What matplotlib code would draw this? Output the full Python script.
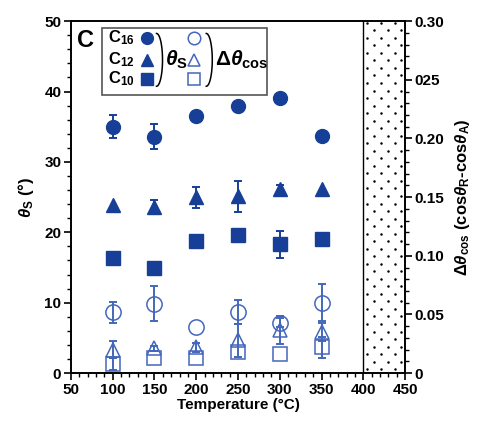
import matplotlib.pyplot as plt
import numpy as np
from matplotlib.ticker import MultipleLocator, FixedLocator
from matplotlib.patches import Rectangle

plt.rcParams['font.family'] = ['Liberation Sans', 'DejaVu Sans']
plt.rcParams['font.weight'] = 'bold'
plt.rcParams['mathtext.fontset'] = 'custom'
plt.rcParams['mathtext.rm'] = 'Liberation Sans:bold'
plt.rcParams['mathtext.it'] = 'Liberation Sans:bold:italic'
plt.rcParams['mathtext.bf'] = 'Liberation Sans:bold'

# temperatures (°C)
temps = [100, 150, 200, 250, 300, 350]

# static contact angle theta_S (deg) with error
c16_s = [35.0, 33.6, 36.5, 38.0, 39.1, 33.7]
c16_s_err = [1.6, 1.8, 0, 0, 0, 0]
c12_s = [23.9, 23.6, 25.0, 25.1, 26.2, 26.2]
c12_s_err = [0, 1.0, 1.5, 2.2, 0.5, 0]
c10_s = [16.4, 15.0, 18.7, 19.6, 18.3, 19.1]
c10_s_err = [0, 0, 0.6, 0, 1.9, 0]

# hysteresis delta cos theta
c16_cos = [0.052, 0.059, 0.039, 0.052, 0.043, 0.060]
c16_cos_err = [0.009, 0.015, 0, 0.010, 0.004, 0.016]
c12_cos = [0.020, 0.021, 0.022, 0.028, 0.037, 0.035]
c12_cos_err = [0.007, 0.002, 0.004, 0.014, 0.012, 0.008]
c10_cos = [0.008, 0.0125, 0.013, 0.018, 0.016, 0.022]
c10_cos_err = [0.005, 0, 0, 0, 0, 0.009]

right_ticks = [0, 0.05, 0.10, 0.15, 0.20, 0.25, 0.30]
right_labels = ['0', '0.05', '0.10', '0.15', '0.20', '025', '0.30']

dark = '#173f97'
light = '#4467bb'


def draw_series(a, x, y, err, mk, ms, filled):
    x = np.asarray(x)
    y = np.asarray(y)
    err = np.asarray(err)
    has = err > 0
    col = dark if filled else light
    # error bars only where there is one
    a.errorbar(x[has], y[has], yerr=err[has], fmt='none', ecolor=col,
               elinewidth=1.4, capsize=3, capthick=1.4, zorder=3)
    if filled:
        a.plot(x, y, ls='none', marker=mk, ms=ms, color=dark, zorder=4)
    else:
        a.plot(x, y, ls='none', marker=mk, ms=ms, mfc='none', mec=light,
               mew=1.1, zorder=4)


fig = plt.figure(figsize=(4.81, 4.23), dpi=100)
ax = fig.add_axes([0.1476, 0.118, 0.6944, 0.832])
ax2 = ax.twinx()

draw_series(ax, temps, c16_s, c16_s_err, 'o', 10, True)
draw_series(ax, temps, c12_s, c12_s_err, '^', 9.5, True)
draw_series(ax, temps, c10_s, c10_s_err, 's', 9.5, True)

draw_series(ax2, temps, c16_cos, c16_cos_err, 'o', 11, False)
draw_series(ax2, temps, c12_cos, c12_cos_err, '^', 10.5, False)
draw_series(ax2, temps, c10_cos, c10_cos_err, 's', 10.5, False)

# dotted region 400-450 (staggered dot texture)
ax.axvline(400, color='black', lw=1.0, zorder=2)
dot_y = np.arange(0.55, 50, 1.07)
for i, yy in enumerate(dot_y):
    xs = np.array([404.8, 421.2, 437.6]) if i % 2 == 0 else np.array([413.0, 429.4, 445.8])
    ax.scatter(xs, np.full(len(xs), yy), s=3.2, color='black', linewidths=0, zorder=1,
               clip_on=True)

ax.set_xlim(50, 450)
ax.set_ylim(0, 50)
ax2.set_ylim(0, 0.30)

ax.xaxis.set_major_locator(MultipleLocator(50))
ax.xaxis.set_minor_locator(MultipleLocator(10))
ax.yaxis.set_major_locator(MultipleLocator(10))
ax.yaxis.set_minor_locator(MultipleLocator(2))
ax2.yaxis.set_major_locator(FixedLocator(right_ticks))
ax2.set_yticklabels(right_labels)
ax2.yaxis.set_minor_locator(MultipleLocator(0.01))

for a in (ax, ax2):
    a.tick_params(which='major', length=5, width=1.2, labelsize=11, pad=2)
    a.tick_params(which='minor', length=3, width=1.0)
    for s in a.spines.values():
        s.set_linewidth(1.2)
ax.tick_params(axis='y', which='both', right=False)
ax.tick_params(axis='x', which='both', top=False)
for lab in ax.get_xticklabels() + ax.get_yticklabels() + ax2.get_yticklabels():
    lab.set_fontweight('bold')

ax.set_xlabel('Temperature (°C)', fontsize=11, fontweight='bold', labelpad=1)
ax.set_ylabel(r'$\theta_\mathrm{S}$ (°)', fontsize=12, fontweight='bold', labelpad=6)
ax2.set_ylabel(r'$\Delta\theta_\mathrm{cos}$ (cos$\theta_\mathrm{R}$-cos$\theta_\mathrm{A}$)',
               fontsize=12, fontweight='bold', labelpad=6)

# panel letter
ax.text(0.018, 0.945, 'C', transform=ax.transAxes, fontsize=17, fontweight='bold',
        va='center', ha='left')

# hand-made legend box
ax2.add_patch(Rectangle((0.093, 0.79), 0.494, 0.19, transform=ax2.transAxes,
                        facecolor='white', edgecolor='#555555', linewidth=1.2, zorder=5))
rows = [0.952, 0.891, 0.836]
names = [r'C$_\mathrm{16}$', r'C$_\mathrm{12}$', r'C$_\mathrm{10}$']
marks = ['o', '^', 's']
for yy, nm, mk in zip(rows, names, marks):
    ax2.text(0.112, yy, nm, transform=ax2.transAxes, fontsize=12, fontweight='bold',
             va='center', ha='left', zorder=6)
    ax2.plot([0.227], [yy], marker=mk, ms=8.5, color=dark, transform=ax2.transAxes,
             zorder=6, clip_on=False)
    ax2.plot([0.368], [yy], marker=mk, ms=9, mfc='none', mec=light, mew=1.1,
             transform=ax2.transAxes, zorder=6, clip_on=False)

# brackets
t = np.linspace(-np.pi / 2, np.pi / 2, 40)
for bx in (0.256, 0.405):
    ax2.plot(bx + 0.018 * np.cos(t), 0.89 + 0.075 * np.sin(t), color='black', lw=1.1,
             transform=ax2.transAxes, zorder=6, clip_on=False)
ax2.text(0.282, 0.89, r'$\theta_\mathrm{S}$', transform=ax2.transAxes, fontsize=15,
         va='center', ha='left', zorder=6)
ax2.text(0.432, 0.89, r'$\Delta\theta_\mathrm{cos}$', transform=ax2.transAxes, fontsize=15,
         va='center', ha='left', zorder=6)

fig.savefig('out.png', dpi=100)
